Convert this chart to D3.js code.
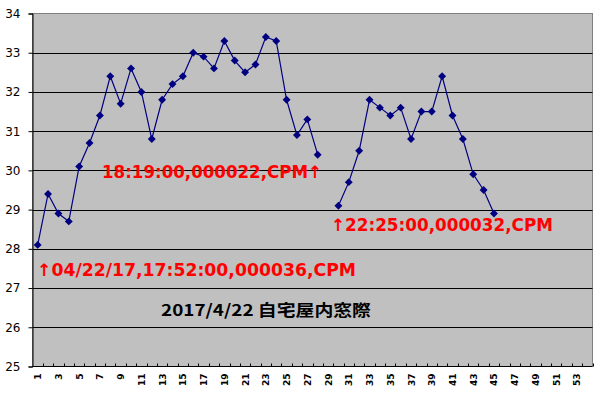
<!DOCTYPE html>
<html>
<head>
<meta charset="utf-8">
<script src="https://cdn.jsdelivr.net/npm/d3@7"></script>
<style>
  body { margin: 0; background: #fff; }
  svg { display: block; }
</style>
</head>
<body>
<div id="chart"></div>
<script>
// categories 1..54, values only for 1..45 (29 is missing)
var categories = d3.range(1, 55);
var values = [28.1, 29.4, 28.9, 28.7, 30.1, 30.7, 31.4, 32.4, 31.7, 32.6,
              32.0, 30.8, 31.8, 32.2, 32.4, 33.0, 32.9, 32.6, 33.3, 32.8,
              32.5, 32.7, 33.4, 33.3, 31.8, 30.9, 31.3, 30.4, null, 29.1,
              29.7, 30.5, 31.8, 31.6, 31.4, 31.6, 30.8, 31.5, 31.5, 32.4,
              31.4, 30.8, 29.9, 29.5, 28.9];
var yTicks = [25, 26, 27, 28, 29, 30, 31, 32, 33, 34];
var xTickLabels = categories.filter(function(d) { return d % 2 == 1; });
var notes = [
  {text: "↑04/22/17,17:52:00,000036,CPM", cat: 0.93, val: 27.45, len: 319},
  {text: "18:19:00,000022,CPM↑", cat: 7.2, val: 29.95, len: 220},
  {text: "↑22:25:00,000032,CPM", cat: 29.28, val: 28.6, len: 222}
];
var title = "2017/4/22 自宅屋内窓際";

var W = 599, H = 397;
var plotL = 32.5, plotR = 592.5, plotT = 13.5, plotB = 366.5;

var svg = d3.select("#chart").append("svg")
  .attr("width", W)
  .attr("height", H);

var x = d3.scaleBand().domain(categories).range([plotL, plotR]);
// continuous version of the category axis, for placing the notes
var xc = d3.scaleLinear().domain([0.5, 54.5]).range([plotL, plotR]);
var y = d3.scaleLinear().domain([25, 34]).range([plotB, plotT]);

// plot area
svg.append("rect")
  .attr("x", plotL).attr("y", plotT)
  .attr("width", plotR - plotL).attr("height", plotB - plotT)
  .attr("fill", "#c0c0c0")
  .attr("stroke", "#808080");

// grid lines
svg.selectAll(".grid")
  .data(yTicks.filter(function(d) { return d > 25 && d < 34; }))
  .enter().append("line")
  .attr("x1", plotL).attr("x2", plotR)
  .attr("y1", function(d) { return Math.round(y(d)) + 0.5; })
  .attr("y2", function(d) { return Math.round(y(d)) + 0.5; })
  .attr("stroke", "#000");

// y axis
var yAxis = d3.axisLeft(y).tickValues(yTicks).tickSize(4).tickPadding(8);
var gy = svg.append("g").attr("transform", "translate(" + plotL + ",0)").call(yAxis);
gy.select(".domain").attr("stroke", "#000");
gy.selectAll("text").attr("font-family", "DejaVu Sans").attr("font-size", 12).attr("fill", "#000");

// x axis: ticks at category boundaries, pointing inward
var gx = svg.append("g");
gx.append("line")
  .attr("x1", plotL).attr("x2", plotR)
  .attr("y1", plotB).attr("y2", plotB)
  .attr("stroke", "#000");
gx.selectAll(".xt")
  .data(categories)
  .enter().append("line")
  .attr("x1", function(d) { return Math.round(x(d) + x.bandwidth()) + 0.5; })
  .attr("x2", function(d) { return Math.round(x(d) + x.bandwidth()) + 0.5; })
  .attr("y1", plotB).attr("y2", plotB - 3)
  .attr("stroke", "#000");
gx.selectAll(".xl")
  .data(xTickLabels)
  .enter().append("text")
  .attr("transform", function(d) {
    return "translate(" + (x(d) + x.bandwidth() / 2 + 3.5) + "," + (plotB + 7) + ") rotate(-90)";
  })
  .attr("text-anchor", "end")
  .attr("font-family", "DejaVu Sans")
  .attr("font-weight", "bold")
  .attr("font-size", 9)
  .text(function(d) { return d; });

// line with gap
var pts = values.map(function(v, i) { return {cat: categories[i], val: v}; });
var line = d3.line()
  .defined(function(d) { return d.val != null; })
  .x(function(d) { return x(d.cat) + x.bandwidth() / 2; })
  .y(function(d) { return y(d.val); });
svg.append("path")
  .datum(pts)
  .attr("d", line)
  .attr("fill", "none")
  .attr("stroke", "#000080")
  .attr("stroke-width", 1.2);

svg.selectAll(".pt")
  .data(pts.filter(function(d) { return d.val != null; }))
  .enter().append("path")
  .attr("d", d3.symbol().type(d3.symbolDiamond2).size(40))
  .attr("transform", function(d) {
    return "translate(" + (x(d.cat) + x.bandwidth() / 2) + "," + y(d.val) + ")";
  })
  .attr("fill", "#000080");

// red notes
svg.selectAll(".note")
  .data(notes)
  .enter().append("text")
  .attr("x", function(d) { return xc(d.cat); })
  .attr("y", function(d) { return y(d.val) + 6; })
  .attr("font-family", "DejaVu Sans")
  .attr("font-weight", "bold")
  .attr("font-size", 17)
  .attr("fill", "#ff0000")
  .attr("textLength", function(d) { return d.len; })
  .attr("lengthAdjust", "spacingAndGlyphs")
  .text(function(d) { return d.text; });

svg.append("text")
  .attr("x", 161)
  .attr("y", 316)
  .attr("font-family", "Noto Sans CJK JP")
  .attr("font-weight", "bold")
  .attr("font-size", 16)
  .attr("fill", "#000")
  .attr("textLength", 210)
  .attr("lengthAdjust", "spacingAndGlyphs")
  .text(title);
</script>
</body>
</html>
